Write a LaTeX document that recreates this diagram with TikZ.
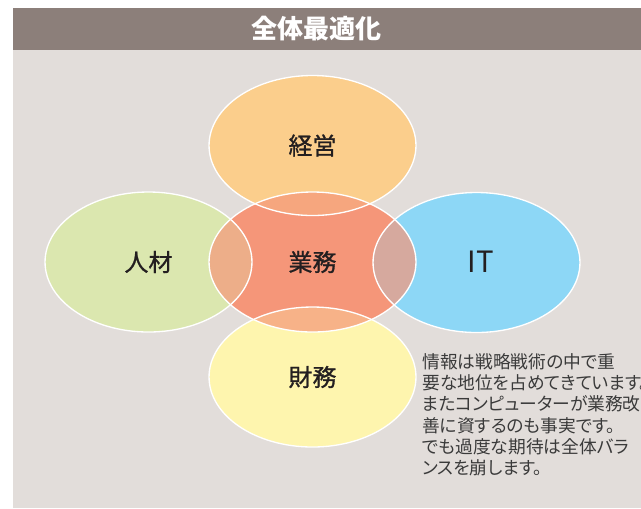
\documentclass[tikz,border=0pt]{standalone}
\usepackage{fontspec}
\setmainfont{Noto Sans CJK JP}[RawFeature=+palt]
\newfontfamily\jp{Noto Sans CJK JP}[RawFeature=+palt]
\newfontfamily\jplbl{Noto Sans CJK JP}[RawFeature=+palt,FakeBold=1]
\definecolor{barbg}{HTML}{8C7F7A}
\definecolor{panel}{HTML}{E2DDDA}
\definecolor{ckeiei}{HTML}{FBCE8C}
\definecolor{cjinzai}{HTML}{DBE7AF}
\definecolor{cit}{HTML}{8DD7F6}
\definecolor{czaimu}{HTML}{FEF5AE}
\definecolor{cgyomu}{HTML}{F59679}
\definecolor{ink}{HTML}{231F20}
\definecolor{notegray}{HTML}{3A3A3A}
\begin{document}
\begin{tikzpicture}[x=0.75pt,y=-0.75pt,font=\jp,
	lbl/.style={text=ink,font=\jplbl\fontsize{18}{18}\selectfont},
	rim/.style={draw=white,line width=1pt}]
	\useasboundingbox (0,0) rectangle (641,508);
	
	\fill[barbg] (13,8) rectangle (641,50);
	\fill[panel] (13,50) rectangle (641,508);
	\node[text=white,font=\jp\bfseries\fontsize{19.5}{20}\selectfont] (title) at (316,29) {全体最適化};
	
	% ellipse centres
	\coordinate (pkeiei) at (312.5,145.5);
	\coordinate (pjinzai) at (148.5,262);
	\coordinate (pgyomu) at (312.5,262);
	\coordinate (pit) at (476.5,262.5);
	\coordinate (pzaimu) at (312.5,377);
	
	\fill[cgyomu] (pgyomu) ellipse [x radius=77.6pt,y radius=52.5pt];
	\fill[ckeiei] (pkeiei) ellipse [x radius=77.6pt,y radius=52.5pt];
	\fill[cjinzai] (pjinzai) ellipse [x radius=77.6pt,y radius=52.5pt];
	\fill[cit] (pit) ellipse [x radius=77.6pt,y radius=52.5pt];
	\fill[czaimu] (pzaimu) ellipse [x radius=77.6pt,y radius=52.5pt];
	\fill[cgyomu,fill opacity=0.7] (pgyomu) ellipse [x radius=77.6pt,y radius=52.5pt];
	\foreach \p in {pkeiei,pjinzai,pgyomu,pit,pzaimu}
		\draw[rim] (\p) ellipse [x radius=77.6pt,y radius=52.5pt];
	
	\node[lbl] (keiei) at (pkeiei) {経営};
	\node[lbl] (jinzai) at (pjinzai) {人材};
	\node[lbl] (gyomu) at (pgyomu) {業務};
	\node[lbl,font=\jp\fontsize{22}{22}\selectfont] (it) at (481,262) {IT};
	\node[lbl] (zaimu) at (pzaimu) {財務};
	
	\begin{scope}
		\clip (13,50) rectangle (641,508);
		\node[anchor=north west,inner sep=0pt,align=left,text=notegray,font=\jp\fontsize{13.3}{16}\selectfont] (memo) at (422,353)
		{情報は戦略戦術の中で重\\要な地位を占めてきています。\\またコンピューターが業務改\\善に資するのも事実です。\\でも過度な期待は全体バラ\\ンスを崩します。};
	\end{scope}
\end{tikzpicture}
\end{document}
